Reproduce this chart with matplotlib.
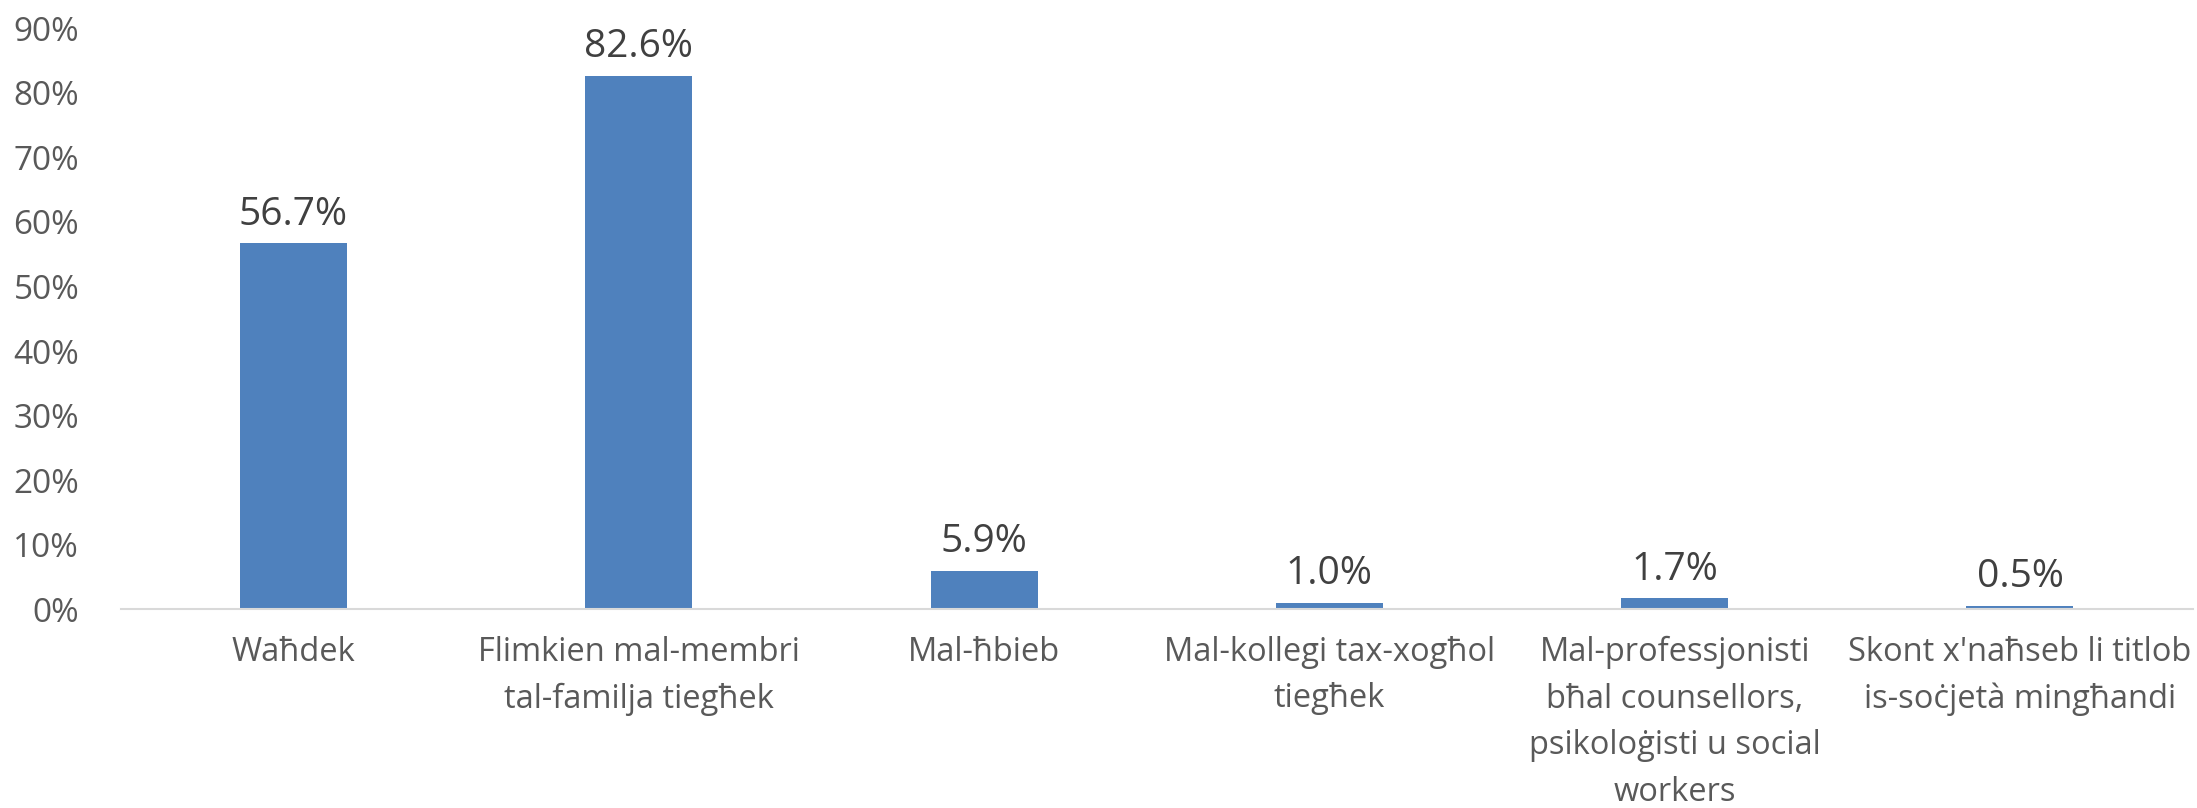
import matplotlib
matplotlib.use("Agg")
import matplotlib.pyplot as plt
from matplotlib.ticker import FuncFormatter, MultipleLocator

categories = [
    "Waħdek",
    "Flimkien mal-membri\ntal-familja tiegħek",
    "Mal-ħbieb",
    "Mal-kollegi tax-xogħol\ntiegħek",
    "Mal-professjonisti\nbħal counsellors,\npsikoloġisti u social\nworkers",
    "Skont x'naħseb li titlob\nis-soċjetà mingħandi",
]
values = [56.7, 82.6, 5.9, 1.0, 1.7, 0.5]

bar_color = "#4F81BD"
text_color = "#595959"

fig = plt.figure(figsize=(21.97, 8.08), dpi=100)
ax = fig.add_axes([0.055, 0.246, 0.943, 0.719])

x = range(len(categories))
bars = ax.bar(x, values, width=0.31, color=bar_color)

for b, v in zip(bars, values):
    ax.annotate(f"{v:.1f}%", (b.get_x() + b.get_width() / 2, v),
                xytext=(0, 7), textcoords="offset points",
                ha="center", va="bottom", fontsize=28,
                family="Open Sans", color="#404040")

ax.set_xlim(-0.5, len(categories) - 0.5)
ax.set_ylim(0, 90)
ax.yaxis.set_major_locator(MultipleLocator(10))
ax.yaxis.set_major_formatter(FuncFormatter(lambda v, p: f"{v:.0f}%"))

ax.set_xticks(list(x))
ax.set_xticklabels(categories, fontsize=23.5, family="Open Sans",
                   color=text_color, linespacing=1.55)
for t in ax.get_yticklabels():
    t.set_fontsize(24)
    t.set_family("Open Sans")
    t.set_color(text_color)

ax.tick_params(axis="x", length=0, pad=19)
ax.tick_params(axis="y", length=0, pad=30)
for s in ["top", "right", "left"]:
    ax.spines[s].set_visible(False)
ax.spines["bottom"].set_color("#D9D9D9")
ax.spines["bottom"].set_linewidth(1.5)

fig.savefig("out.png", dpi=100)
